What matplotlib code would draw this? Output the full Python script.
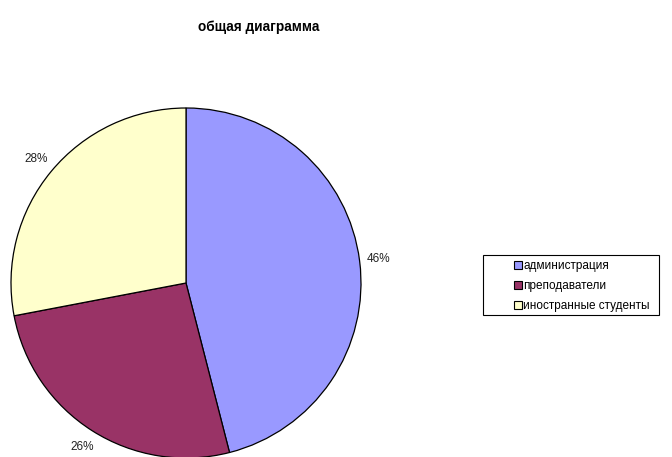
import matplotlib
matplotlib.use("Agg")
import matplotlib.pyplot as plt
from matplotlib.patches import Patch, Rectangle

plt.rcParams['font.family'] = ['Liberation Sans', 'DejaVu Sans']

categories = ['администрация', 'преподаватели', 'иностранные студенты']
values = [46, 26, 28]
colors = ['#9999FF', '#993366', '#FFFFCC']
title = 'общая диаграмма'

W, H = 672, 457
fig = plt.figure(figsize=(W / 100, H / 100), dpi=100)
ax = fig.add_axes([0, 0, 1, 1])

wedges, texts, autotexts = ax.pie(
    values, colors=colors, startangle=90, counterclock=False,
    center=(186, H - 283), radius=175,
    autopct='%1.0f%%', pctdistance=1.11,
    wedgeprops=dict(edgecolor='black', linewidth=0.9),
    textprops=dict(fontsize=8.5, color='#222222'),
)
ax.set_xlim(0, W)
ax.set_ylim(0, H)
ax.set_aspect('equal')
ax.axis('off')

fig.text(259 / W, 1 - 27 / H, title, ha='center', va='center',
         fontsize=9.8, fontweight='bold')

# legend frame
fig.patches.append(Rectangle((483 / W, 1 - 315 / H), (659 - 483) / W, (315 - 255) / H,
                             transform=fig.transFigure, facecolor='white',
                             edgecolor='black', linewidth=0.8, zorder=1))

handles = [Patch(facecolor=c, edgecolor='black', linewidth=0.8) for c in colors]
leg = fig.legend(handles, categories, loc='upper left',
                 bbox_to_anchor=(514 / W, 1 - 260 / H),
                 fontsize=8.5, frameon=False,
                 handlelength=0.65, handleheight=0.65,
                 handletextpad=0.15, labelspacing=0.68, borderpad=0,
                 borderaxespad=0)
leg.set_zorder(2)

fig.savefig('out.png', dpi=100)
